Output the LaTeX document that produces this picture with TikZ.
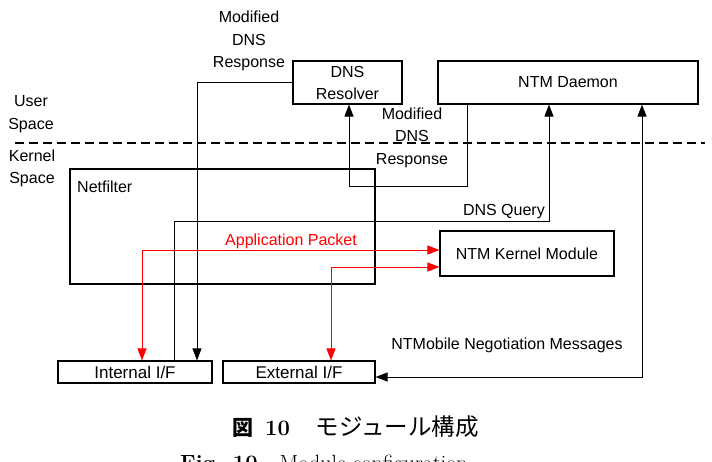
\documentclass[tikz,border=0pt]{standalone}
\usepackage{fontspec}
\setsansfont{Liberation Sans}
\newfontfamily\cjk{Noto Sans CJK JP}
\usetikzlibrary{arrows.meta}
\begin{document}
\begin{tikzpicture}[x=1pt,y=-1pt,
  box/.style={draw, line width=1.1pt, inner sep=0pt, align=center,
    font=\sffamily\fontsize{16}{22}\selectfont},
  lbl/.style={inner sep=0pt, align=center, font=\sffamily\fontsize{16}{22.5}\selectfont},
  conn/.style={line width=1pt},
  tip/.style={-{Triangle[length=12pt,width=9pt]}},
  tips/.style={{Triangle[length=12pt,width=9pt]}-{Triangle[length=12pt,width=9pt]}},
  redc/.style={conn, draw=red},
  sep/.style={line width=2pt, dash pattern=on 9pt off 5pt}
]
\useasboundingbox (0,0) rectangle (712,461);
\clip (0,0) rectangle (712,461);

% boxes
\node[box, minimum width=109pt, minimum height=43pt] (dns) at (347.5,82.5) {DNS\\Resolver};
\node[box, minimum width=260pt, minimum height=43pt] (daemon) at (568,82.5) {NTM Daemon};
\node[box, minimum width=305pt, minimum height=115pt] (netf) at (222.5,226.5) {};
\node[lbl, anchor=west] (netl) at (77,187) {Netfilter};
\node[box, minimum width=174pt, minimum height=45pt] (kmod) at (527,253.5) {NTM Kernel Module};
\node[box, minimum width=154pt, minimum height=22pt, font=\sffamily\fontsize{17}{20}\selectfont] (intif) at (135,372) {Internal I/F};
\node[box, minimum width=152pt, minimum height=22pt, font=\sffamily\fontsize{17}{20}\selectfont] (extif) at (299,372) {External I/F};

% user / kernel separator
\coordinate (dl) at (15,143);
\coordinate (dr) at (705,143);
\draw[sep] (dl) -- (dr);
\node[lbl] (user) at (31,114) {User\\Space};
\node[lbl] (kern) at (32,168.5) {Kernel\\Space};

% Modified DNS Response (resolver -> internal I/F)
\coordinate (c1) at (197,0);
\draw[conn, tip] (dns.west) -| (c1 |- intif.north);
\node[lbl] (mod1) at (249,41) {Modified\\DNS\\Response};

% Modified DNS Response (daemon -> resolver)
\coordinate (m1) at (467,186);
\coordinate (m2) at (349,186);
\draw[conn, tip] (m1 |- daemon.south) -- (m1) -- (m2) -- (m2 |- dns.south);
\node[lbl] (mod2) at (412,137.5) {Modified\\DNS\\Response};

% DNS Query (internal I/F -> daemon)
\coordinate (q1) at (174,221);
\coordinate (q2) at (549,221);
\draw[conn, tip] (q1 |- intif.north) -- (q1) -- (q2) -- (q2 |- daemon.south);
\node[lbl, anchor=east] (dq) at (545,212) {DNS Query};

% Application Packet (red)
\coordinate (a1) at (142,250);
\coordinate (b1) at (331,267);
\draw[redc, tips] (a1 |- intif.north) -- (a1) -- (a1 -| kmod.west);
\draw[redc, tips] (b1 |- extif.north) -- (b1) -- (b1 -| kmod.west);
\node[lbl, text=red] (ap) at (291,241) {Application Packet};

% NTMobile Negotiation Messages
\coordinate (n1) at (642,377);
\draw[conn, tips] (n1 |- daemon.south) -- (n1) -- (n1 -| extif.east);
\node[lbl] (neg) at (507,345) {NTMobile Negotiation Messages};

% caption
\node[anchor=base west, inner sep=0pt] (cap1) at (232,435)
  {{\cjk\bfseries\fontsize{21}{24}\selectfont 図}\hspace{12pt}{\bfseries\fontsize{22}{24}\selectfont 10}\hspace{26pt}{\cjk\fontsize{23.5}{24}\selectfont モジュール構成}};
\node[anchor=base west, inner sep=0pt] (cap2) at (180,470)
  {\fontsize{22}{24}\selectfont\textbf{Fig. 10}\hspace{22pt}Module configuration};
\end{tikzpicture}
\end{document}
